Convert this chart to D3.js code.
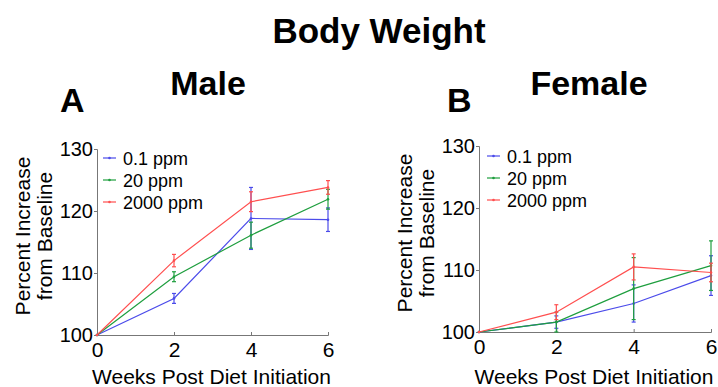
<!DOCTYPE html>
<html><head><meta charset="utf-8">
<script src="https://cdn.jsdelivr.net/npm/d3@7"></script>
<style>body{margin:0;background:#fff}svg{display:block}text{font-family:"Liberation Sans",Arial,sans-serif}</style>
</head><body><svg id="c" width="718" height="387"></svg>
<script>
const weeks = [0, 2, 4, 6];
const seriesNames = ["0.1 ppm", "20 ppm", "2000 ppm"];
const yTicks = [100, 110, 120, 130];
const xTicks = [0, 2, 4, 6];
// Male
const maleLow = [100, 105.9, 118.8, 118.6];
const maleLowErr = [0, 0.8, 5.0, 1.9];
const maleMid = [100, 109.4, 116.1, 121.9];
const maleMidErr = [0, 0.8, 2.1, 1.6];
const maleHigh = [100, 112.0, 121.5, 123.8];
const maleHighErr = [0, 1.0, 1.6, 1.1];
// Female
const femaleLow = [100, 101.6, 104.6, 109.1];
const femaleLowErr = [0, 1.0, 3.0, 3.2];
const femaleMid = [100, 101.6, 107.0, 110.7];
const femaleMidErr = [0, 1.6, 5.0, 4.0];
const femaleHigh = [100, 103.2, 110.5, 109.6];
const femaleHighErr = [0, 1.2, 2.1, 1.5];

const colors = ["#4b4bea", "#1e9e3e", "#ff4f4f"];
const svg = d3.select("#c");

svg.append("text").attr("x", 379).attr("y", 43).attr("text-anchor", "middle")
  .attr("font-size", 35).attr("font-weight", "bold").text("Body Weight");

function panel(cfg) {
  const x = d3.scaleLinear().domain([0, 6]).range([cfg.x0, cfg.x1]);
  const y = d3.scaleLinear().domain([100, 130]).range([cfg.y0, cfg.y1]);
  const g = svg.append("g");
  g.append("text").attr("x", cfg.letterX).attr("y", 112).attr("font-size", 34)
    .attr("font-weight", "bold").text(cfg.letter);
  g.append("text").attr("x", cfg.titleX).attr("y", 95).attr("text-anchor", "middle")
    .attr("font-size", 34).attr("font-weight", "bold").text(cfg.title);

  const ya = g.append("g").attr("transform", `translate(${cfg.x0},0)`)
    .call(d3.axisLeft(y).tickValues(yTicks).tickFormat(d3.format("d")).tickSize(3).tickPadding(1));
  const xa = g.append("g").attr("transform", `translate(0,${cfg.y0})`)
    .call(d3.axisBottom(x).tickValues(xTicks).tickFormat(d3.format("d")).tickSize(-3).tickPadding(7));
  [ya, xa].forEach(a => {
    a.select(".domain").attr("stroke", "#777");
    a.selectAll(".tick line").attr("stroke", "#777");
    a.selectAll("text").attr("font-size", 20).attr("fill", "#000")
      .attr("font-family", '"Liberation Sans",Arial,sans-serif');
  });
  xa.selectAll("text").attr("font-size", 21);

  g.append("text").attr("x", (cfg.x0 + cfg.x1) / 2 - 1).attr("y", 384).attr("text-anchor", "middle")
    .attr("font-size", 21).text("Weeks Post Diet Initiation");
  const ly = (cfg.y0 + cfg.y1) / 2 - 6;
  const yl = g.append("text").attr("transform", `translate(${cfg.x0 - 67},${ly}) rotate(-90)`)
    .attr("text-anchor", "middle").attr("font-size", 21);
  yl.append("tspan").attr("x", 0).attr("dy", 0).text("Percent Increase");
  yl.append("tspan").attr("x", 0).attr("dy", 22).text("from Baseline");

  cfg.series.forEach((s, i) => {
    const c = colors[i];
    const pts = weeks.map((w, k) => ({ w, v: s.v[k], e: s.e[k] }));
    g.append("path").datum(pts).attr("fill", "none").attr("stroke", c).attr("stroke-width", 1.2)
      .attr("d", d3.line().x(d => x(d.w)).y(d => y(d.v)));
    const eb = g.append("g").attr("stroke", c).attr("stroke-width", 1.2);
    pts.filter(d => d.e > 0).forEach(d => {
      eb.append("line").attr("x1", x(d.w)).attr("x2", x(d.w)).attr("y1", y(d.v - d.e)).attr("y2", y(d.v + d.e));
      eb.append("line").attr("x1", x(d.w) - 2).attr("x2", x(d.w) + 2).attr("y1", y(d.v - d.e)).attr("y2", y(d.v - d.e));
      eb.append("line").attr("x1", x(d.w) - 2).attr("x2", x(d.w) + 2).attr("y1", y(d.v + d.e)).attr("y2", y(d.v + d.e));
    });
    pts.forEach(d => {
      g.append("circle").attr("cx", x(d.w)).attr("cy", y(d.v)).attr("r", 1.3).attr("fill", c);
    });
    const lyy = cfg.legY + i * 22;
    g.append("line").attr("x1", cfg.legX).attr("x2", cfg.legX + 13).attr("y1", lyy).attr("y2", lyy)
      .attr("stroke", c).attr("stroke-width", 1.2);
    g.append("circle").attr("cx", cfg.legX + 6.5).attr("cy", lyy).attr("r", 1.3).attr("fill", c);
    g.append("text").attr("x", cfg.legX + 20).attr("y", lyy + 6.5).attr("font-size", 18).text(seriesNames[i]);
  });
}

panel({ x0: 97, x1: 328, y0: 335, y1: 149, letter: "A", letterX: 60, title: "Male", titleX: 208,
  legX: 103, legY: 158,
  series: [{ v: maleLow, e: maleLowErr }, { v: maleMid, e: maleMidErr }, { v: maleHigh, e: maleHighErr }] });
panel({ x0: 479, x1: 711, y0: 332, y1: 146, letter: "B", letterX: 447, title: "Female", titleX: 589,
  legX: 487, legY: 156,
  series: [{ v: femaleLow, e: femaleLowErr }, { v: femaleMid, e: femaleMidErr }, { v: femaleHigh, e: femaleHighErr }] });
</script></body></html>
